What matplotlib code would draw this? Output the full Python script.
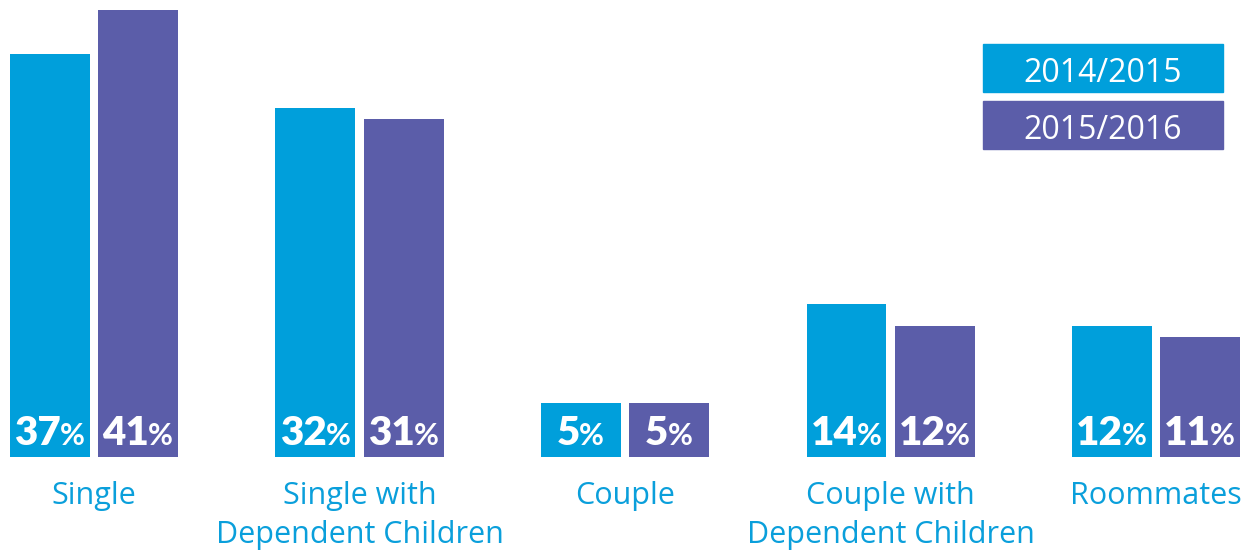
import matplotlib.pyplot as plt
import numpy as np
from matplotlib.patches import Rectangle

categories = ['Single', 'Single with\nDependent Children', 'Couple',
              'Couple with\nDependent Children', 'Roommates']
years = ['2014/2015', '2015/2016']
share_2014 = [37, 32, 5, 14, 12]
share_2015 = [41, 31, 5, 12, 11]

CYAN = '#009FDB'
PURPLE = '#5B5DA9'

plt.rcParams['font.family'] = ['Lato', 'DejaVu Sans']
LABEL_FONT = ['Open Sans', 'DejaVu Sans']

fig = plt.figure(figsize=(12.44, 5.53), dpi=100)
# plot area: baseline of the bars sits 96 px above the bottom edge
ax = fig.add_axes([0, 96 / 553, 1, 457 / 553])

x = np.arange(len(categories))
width = 0.301
offset = 0.166

b1 = ax.bar(x - offset, share_2014, width, color=CYAN)
b2 = ax.bar(x + offset, share_2015, width, color=PURPLE)

ax.set_xlim(-0.354, 4.331)
ax.set_ylim(0, 41.93)
for s in ax.spines.values():
    s.set_visible(False)
ax.set_yticks([])
ax.set_xticks(x)
ax.set_xticklabels(categories, fontsize=22, color='#0A9FDB', linespacing=1.42,
                   family=LABEL_FONT)
ax.tick_params(axis='x', length=0, pad=17)

# value labels: bold number + smaller percent sign, centred inside the bar bottom
fig.canvas.draw()
renderer = fig.canvas.get_renderer()
ax_w_px = ax.get_window_extent().width
data_per_px = (ax.get_xlim()[1] - ax.get_xlim()[0]) / ax_w_px
label_y = 1.1

for bars, vals in ((b1, share_2014), (b2, share_2015)):
    for bar, v in zip(bars, vals):
        cx = bar.get_x() + bar.get_width() / 2
        t_num = ax.text(cx, label_y, str(v), color='white', fontsize=29,
                        fontweight='heavy', ha='left', va='baseline')
        t_pct = ax.text(cx, label_y, '%', color='white', fontsize=22,
                        fontweight='bold', ha='left', va='baseline')
        w1 = t_num.get_window_extent(renderer).width * data_per_px
        w2 = t_pct.get_window_extent(renderer).width * data_per_px
        left = cx - (w1 + w2) / 2
        t_num.set_x(left)
        t_pct.set_x(left + w1 - 1 * data_per_px)

# legend boxes, top right
for i, (label, col) in enumerate(zip(years, (CYAN, PURPLE))):
    top = 44 + i * 57
    y0 = 1 - (top + 48) / 553
    fig.patches.append(Rectangle((983 / 1244, y0), 240 / 1244, 48 / 553,
                                 transform=fig.transFigure, color=col))
    fig.text((983 + 120) / 1244, 1 - (top + 38) / 553, label, color='white',
             fontsize=23, ha='center', va='baseline', family=LABEL_FONT)

fig.savefig('out.png', dpi=100)
plt.close(fig)
